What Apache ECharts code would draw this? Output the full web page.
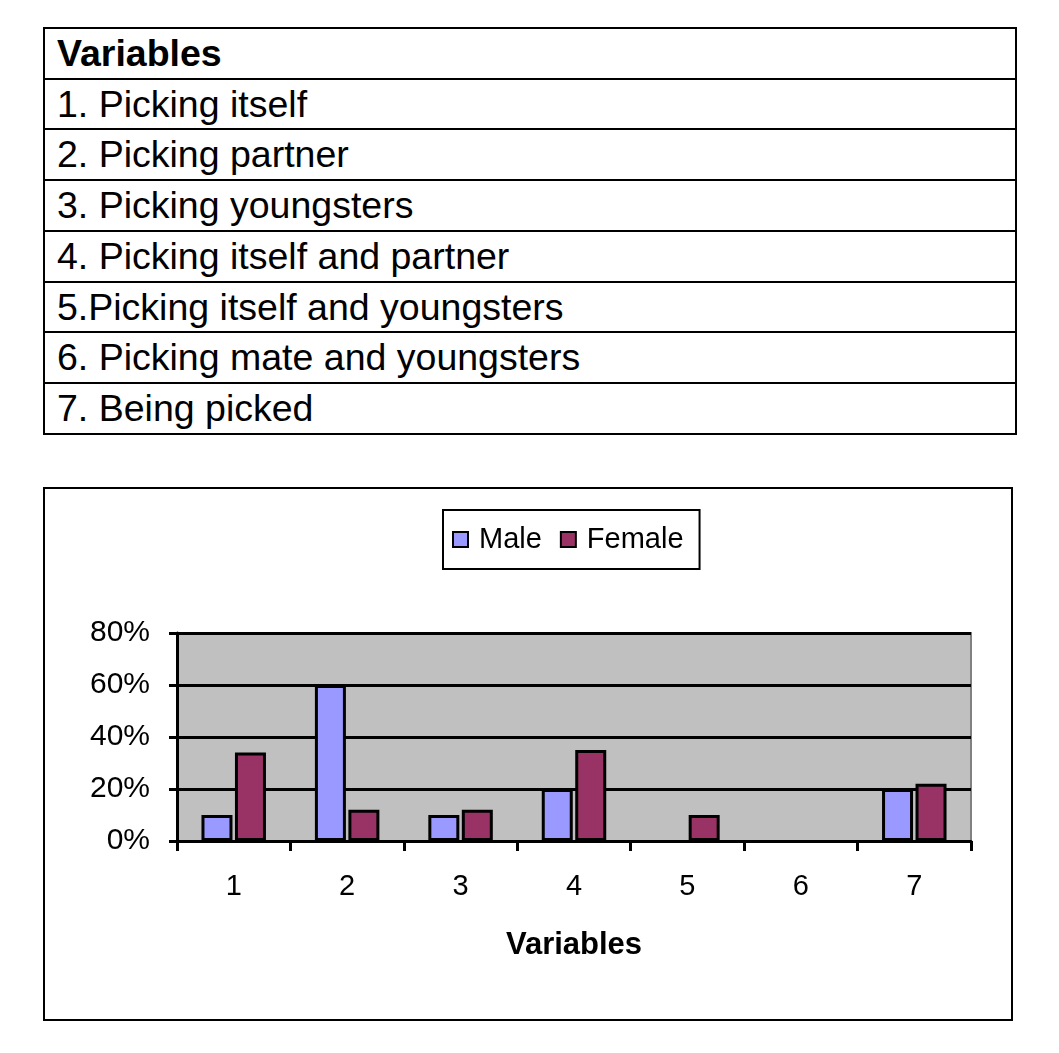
<!DOCTYPE html>
<html>
<head>
<meta charset="utf-8">
<script src="https://cdn.jsdelivr.net/npm/echarts@6/dist/echarts.min.js"></script>
<style>
  html, body { margin: 0; padding: 0; background: #fff; }
  body { width: 1059px; height: 1053px; position: relative; font-family: "Liberation Sans", Arial, sans-serif; }
  table.vars {
    position: absolute; left: 43px; top: 27px; width: 974px;
    border-collapse: collapse; font-size: 37.5px; color: #000;
  }
  table.vars td {
    border: 2px solid #000; height: 48.7px; padding: 0 0 0 12px;
    line-height: 48.7px; white-space: nowrap; box-sizing: content-box;
  }
  table.vars td.head { font-weight: bold; font-size: 37.5px; }
  #box {
    position: absolute; left: 43px; top: 487px; width: 970px; height: 534px;
    box-sizing: border-box; border: 2px solid #000;
  }
  #chart { position: absolute; left: 0; top: 0; width: 966px; height: 530px; }
</style>
</head>
<body>
<table class="vars" id="vars"></table>
<div id="box"><div id="chart"></div></div>
<script>
// table rows
const variableNames = [
  '1. Picking itself',
  '2. Picking partner',
  '3. Picking youngsters',
  '4. Picking itself and partner',
  '5.Picking itself and youngsters',
  '6. Picking mate and youngsters',
  '7. Being picked'
];
// chart data (fractions)
const categories = ['1', '2', '3', '4', '5', '6', '7'];
const male = [0.10, 0.60, 0.10, 0.20, 0, 0, 0.20];
const female = [0.34, 0.12, 0.12, 0.35, 0.10, 0, 0.22];

const tbl = document.getElementById('vars');
let html = '<tr><td class="head">Variables</td></tr>';
variableNames.forEach(v => { html += '<tr><td>' + v + '</td></tr>'; });
tbl.innerHTML = html;

// zero bars are not drawn in the original (no outline)
const hideZero = arr => arr.map(v => (v === 0 ? '-' : v));

const chart = echarts.init(document.getElementById('chart'));
const font = '"Liberation Sans", Arial, sans-serif';

chart.setOption({
  animation: false,
  textStyle: { fontFamily: font },
  legend: {
    left: 398,
    top: 21,
    data: ['Male', 'Female'],
    backgroundColor: '#fff',
    borderColor: '#000',
    borderWidth: 2,
    padding: [15, 16, 15, 9],
    itemGap: 18,
    itemWidth: 15,
    itemHeight: 15,
    icon: 'rect',
    itemStyle: { borderColor: '#000', borderWidth: 2 },
    textStyle: { fontSize: 29, color: '#000', padding: [0, 0, 0, 6] }
  },
  grid: {
    left: 132,
    right: 40,
    top: 144,
    bottom: 178,
    show: true,
    backgroundColor: '#c0c0c0',
    borderColor: '#808080',
    borderWidth: 2,
    containLabel: false
  },
  xAxis: {
    type: 'category',
    data: categories,
    name: 'Variables',
    nameLocation: 'middle',
    nameGap: 89,
    nameTextStyle: { fontSize: 31, fontWeight: 'bold', color: '#000' },
    axisLine: { lineStyle: { color: '#000', width: 3 } },
    axisTick: { show: true, length: 10, lineStyle: { color: '#000', width: 3 } },
    axisLabel: { fontSize: 29, color: '#000', margin: 31 }
  },
  yAxis: {
    type: 'value',
    min: 0,
    max: 0.8,
    interval: 0.2,
    axisLine: { show: true, lineStyle: { color: '#000', width: 3 } },
    axisTick: { show: true, length: 8, lineStyle: { color: '#000', width: 3 } },
    axisLabel: {
      fontSize: 30, color: '#000', margin: 27,
      formatter: v => Math.round(v * 100) + '%'
    },
    splitLine: { show: true, lineStyle: { color: '#000', width: 3 } }
  },
  series: [
    {
      name: 'Male', type: 'bar', data: hideZero(male),
      barWidth: 31, barGap: '8%',
      itemStyle: { color: '#9999ff', borderColor: '#000', borderWidth: 3 }
    },
    {
      name: 'Female', type: 'bar', data: hideZero(female),
      barWidth: 31,
      itemStyle: { color: '#993366', borderColor: '#000', borderWidth: 3 }
    }
  ]
});
</script>
</body>
</html>
